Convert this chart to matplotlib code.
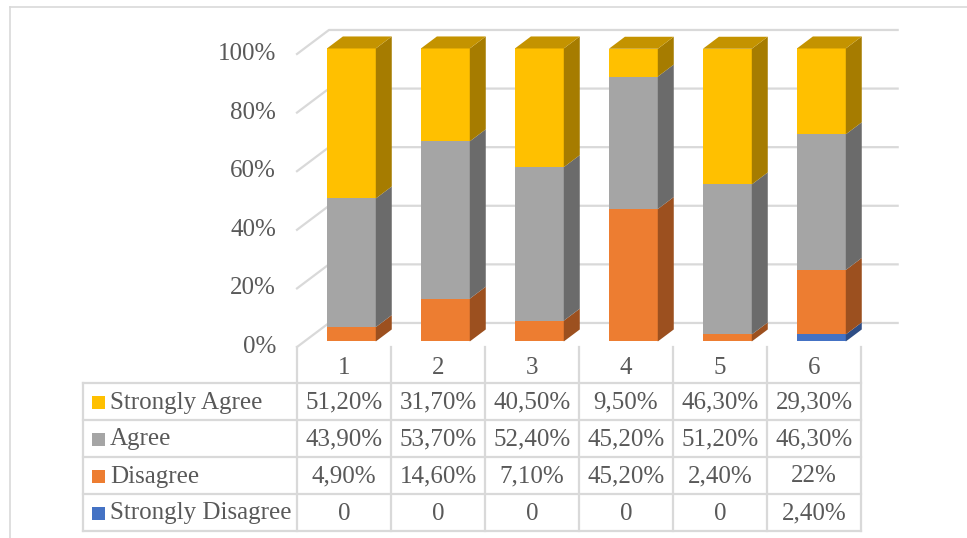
import matplotlib
matplotlib.use("Agg")
import matplotlib.pyplot as plt
from matplotlib.patches import Polygon, Rectangle
from matplotlib.lines import Line2D
from matplotlib.transforms import blended_transform_factory

# ---- data -------------------------------------------------------------
categories = ["1", "2", "3", "4", "5", "6"]
series_names = ["Strongly Agree", "Agree", "Disagree", "Strongly Disagree"]
strongly_agree = [51.2, 31.7, 40.5, 9.5, 46.3, 29.3]
agree = [43.9, 53.7, 52.4, 45.2, 51.2, 46.3]
disagree = [4.9, 14.6, 7.1, 45.2, 2.4, 22.0]
strongly_disagree = [0, 0, 0, 0, 0, 2.4]
y_ticks = [0, 20, 40, 60, 80, 100]

# ---- styling ----------------------------------------------------------
W, H = 967, 538
TEXT = "#595959"
GRID = "#D9D9D9"
FONT = ["Liberation Serif", "DejaVu Serif"]
FS = 18
# front, side, top colours per series
palette = {
    "Strongly Agree": ("#FFC000", "#A67C00", "#C49300"),
    "Agree": ("#A5A5A5", "#6B6B6B", "#858585"),
    "Disagree": ("#ED7D31", "#9C501F", "#BF6526"),
    "Strongly Disagree": ("#4472C4", "#2E4D85", "#3A62A8"),
}

plt.rcParams["font.family"] = FONT

fig = plt.figure(figsize=(W / 100, H / 100), dpi=100)
ax = fig.add_axes([297 / W, (H - 347) / H, 564 / W, 293 / H])
ax.set_xlim(-0.5, len(categories) - 0.5)
ax.set_ylim(0, 100)
ax.axis("off")

# oblique depth projection (depth z from 0 = front to 1 = back wall)
DX, DY = 0.34, 8.2


def proj(x, y, z):
    return (x + z * DX, y + z * DY)


# back wall gridlines with the slanted side-wall segment
for v in y_ticks:
    pts = [proj(-0.5, v, 0), proj(-0.5, v, 1), proj(len(categories) - 0.45, v, 1)]
    ax.add_line(Line2D([p[0] for p in pts], [p[1] for p in pts],
                       color=GRID, lw=1.6, clip_on=False, zorder=1))
    ax.annotate(f"{v}%", xy=(-0.5, v), xytext=(-21, 0), textcoords="offset pixels",
                ha="right", va="center", fontsize=FS, color=TEXT)

# stacked 3D columns
stack_order = [("Strongly Disagree", strongly_disagree), ("Disagree", disagree),
               ("Agree", agree), ("Strongly Agree", strongly_agree)]
BW = 0.52
Z0, Z1 = 0.23, 0.73
for i in range(len(categories)):
    base = 0.0
    top_color = None
    for name, vals in stack_order:
        v = vals[i]
        if v <= 0:
            continue
        front, side, top = palette[name]
        xl = i - BW / 2
        xr = i + BW / 2
        fx0, fy0 = proj(xl, base, Z0)
        ax.bar(fx0 + BW / 2, v, width=BW, bottom=fy0, color=front,
               linewidth=0, zorder=3, clip_on=False)
        side_poly = [proj(xr, base, Z0), proj(xr, base, Z1),
                     proj(xr, base + v, Z1), proj(xr, base + v, Z0)]
        ax.add_patch(Polygon(side_poly, closed=True, facecolor=side,
                             edgecolor="none", zorder=3, clip_on=False))
        base += v
        top_color = top
    top_poly = [proj(xl, base, Z0), proj(xr, base, Z0),
                proj(xr, base, Z1), proj(xl, base, Z1)]
    ax.add_patch(Polygon(top_poly, closed=True, facecolor=top_color,
                         edgecolor="none", zorder=3, clip_on=False))

# ---- data table below the plot ---------------------------------------
def fmt(v):
    if v == 0:
        return "0"
    if float(v).is_integer():
        return f"{int(v)}%"
    return f"{v:.2f}".replace(".", ",") + "%"


bt = blended_transform_factory(ax.transData, fig.transFigure)


def fy(ypix):
    return 1 - ypix / H


table_left = 83 / W
# figure-fraction x of the right table edge
right_fig = fig.transFigure.inverted().transform(
    ax.transData.transform((len(categories) - 0.5, 0)))[0]
header_top, header_bot = 347, 383
row_h = 37
rows = [("Strongly Agree", strongly_agree), ("Agree", agree),
        ("Disagree", disagree), ("Strongly Disagree", strongly_disagree)]
table_bot = header_bot + row_h * len(rows)

# horizontal rules
for r in range(len(rows) + 1):
    y = fy(header_bot + r * row_h)
    fig.add_artist(Line2D([table_left, right_fig], [y, y], color=GRID, lw=1.6))
# vertical rules
fig.add_artist(Line2D([table_left, table_left], [fy(header_bot), fy(table_bot)],
                      color=GRID, lw=1.6))
for k in range(len(categories) + 1):
    xk = k - 0.5
    fig.add_artist(Line2D([xk, xk], [fy(header_top), fy(table_bot)],
                          color=GRID, lw=1.6, transform=bt))

# header with category labels
for i, c in enumerate(categories):
    fig.text(i, fy((header_top + header_bot) / 2 + 3), c, transform=bt,
             ha="center", va="center", fontsize=FS, color=TEXT)

# rows with legend keys and values
for r, (name, vals) in enumerate(rows):
    yc = header_bot + r * row_h + row_h / 2 + 1
    fig.add_artist(Rectangle((92 / W, fy(yc + 6.5)), 13 / W, 13 / H,
                             facecolor=palette[name][0], edgecolor="none",
                             transform=fig.transFigure))
    fig.text(110 / W, fy(yc), name, ha="left", va="center",
             fontsize=FS, color=TEXT)
    for i, v in enumerate(vals):
        fig.text(i, fy(yc), fmt(v), transform=bt, ha="center", va="center",
                 fontsize=FS, color=TEXT)

# chart area outline
fig.add_artist(Line2D([10 / W, 1.0], [fy(7), fy(7)], color=GRID, lw=1.2))
fig.add_artist(Line2D([10 / W, 10 / W], [fy(7), 0.0], color=GRID, lw=1.2))

fig.savefig("out.png", dpi=100, facecolor="white")
